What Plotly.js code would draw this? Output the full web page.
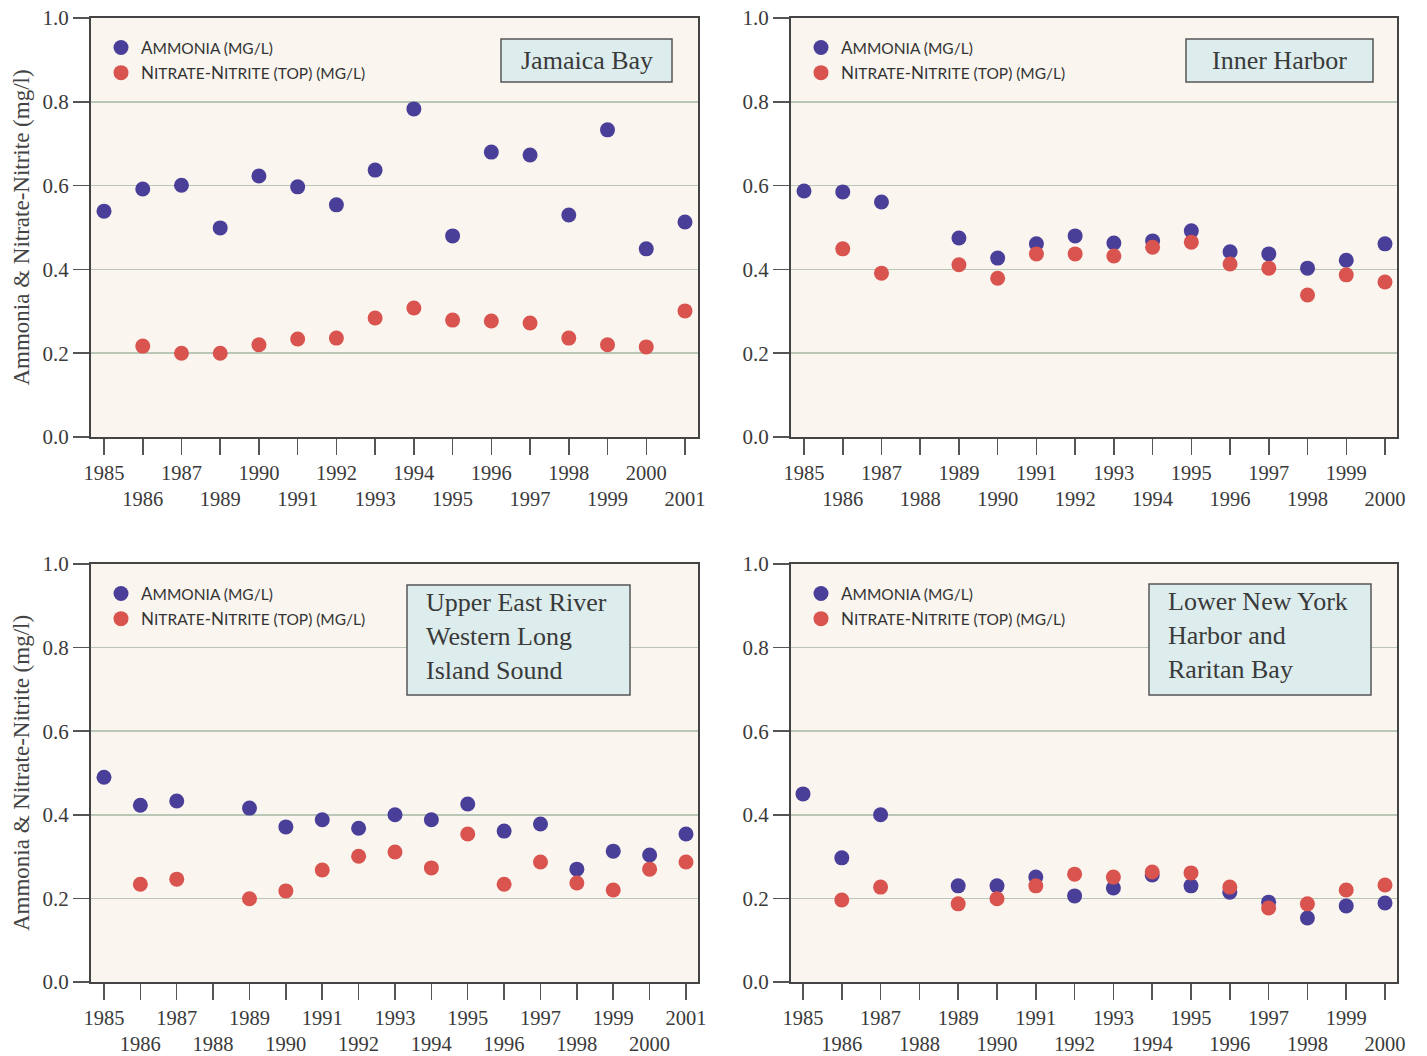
<!DOCTYPE html>
<html>
<head>
<meta charset="utf-8">
<script src="https://cdn.plot.ly/plotly-3.0.1.min.js"></script>
<style>html,body{margin:0;padding:0;background:#fff;}</style>
</head>
<body>
<div id="chart" style="width:1427px;height:1056px;"></div>
<script>
// ---------- DATA ----------
const jamaicaYears = ['1985','1986','1987','1989','1990','1991','1992','1993','1994','1995','1996','1997','1998','1999','2000','2001'];
const jamaicaAmmonia = [0.539,0.592,0.601,0.499,0.623,0.597,0.554,0.637,0.783,0.480,0.680,0.673,0.530,0.733,0.449,0.513];
const jamaicaNitrate = [null,0.217,0.200,0.200,0.220,0.234,0.236,0.284,0.308,0.279,0.277,0.272,0.236,0.220,0.215,0.301];

const innerYears = ['1985','1986','1987','1988','1989','1990','1991','1992','1993','1994','1995','1996','1997','1998','1999','2000'];
const innerAmmonia = [0.587,0.585,0.561,null,0.475,0.427,0.461,0.480,0.463,0.468,0.492,0.442,0.437,0.403,0.422,0.461];
const innerNitrate = [null,0.449,0.391,null,0.411,0.379,0.437,0.437,0.432,0.453,0.465,0.413,0.403,0.339,0.387,0.370];

const upperYears = ['1985','1986','1987','1988','1989','1990','1991','1992','1993','1994','1995','1996','1997','1998','1999','2000','2001'];
const upperAmmonia = [0.490,0.423,0.433,null,0.416,0.371,0.388,0.368,0.400,0.388,0.426,0.361,0.378,0.270,0.313,0.304,0.354];
const upperNitrate = [null,0.234,0.246,null,0.199,0.218,0.268,0.301,0.311,0.273,0.354,0.234,0.287,0.237,0.220,0.270,0.287];

const lowerYears = ['1985','1986','1987','1988','1989','1990','1991','1992','1993','1994','1995','1996','1997','1998','1999','2000'];
const lowerAmmonia = [0.450,0.297,0.400,null,0.230,0.230,0.251,0.206,0.225,0.256,0.230,0.215,0.191,0.153,0.182,0.189];
const lowerNitrate = [null,0.196,0.227,null,0.187,0.199,0.230,0.258,0.251,0.263,0.261,0.227,0.177,0.187,0.220,0.232];

const panelTitles = ['Jamaica Bay', 'Inner Harbor', 'Upper East River<br>Western Long<br>Island Sound', 'Lower New York<br>Harbor and<br>Raritan Bay'];
const yTickVals = [0, 0.2, 0.4, 0.6, 0.8, 1.0];
const yTickText = ['0.0', '0.2', '0.4', '0.6', '0.8', '1.0'];
const yTitle = 'Ammonia &amp; Nitrate-Nitrite (mg/l)';
const ammoniaName = "A<span style='font-size:15.5px'>MMONIA (MG/L)</span>";
const nitrateName = "N<span style='font-size:15.5px'>ITRATE</span>-N<span style='font-size:15.5px'>ITRITE (TOP) (MG/L)</span>";

// ---------- STYLE ----------
const W = 1427, H = 1056;
const AMM = '#4A3F98', NIT = '#D9534F';
const SERIF = '"Liberation Serif", "DejaVu Serif", serif';
const SANS = 'Lato, "Open Sans", sans-serif';
const TXT = '#3a3a3a';
const px = v => v / W;
const py = v => 1 - v / H;

const panels = [
  {years: jamaicaYears, amm: jamaicaAmmonia, nit: jamaicaNitrate, left: 91, right: 698, top: 18, bottom: 437, r0: -0.336, r1: 15.336},
  {years: innerYears, amm: innerAmmonia, nit: innerNitrate, left: 791, right: 1397, top: 18, bottom: 437, r0: -0.336, r1: 15.31},
  {years: upperYears, amm: upperAmmonia, nit: upperNitrate, left: 91, right: 698, top: 564, bottom: 982, r0: -0.357, r1: 16.33},
  {years: lowerYears, amm: lowerAmmonia, nit: lowerNitrate, left: 791, right: 1397, top: 564, bottom: 982, r0: -0.309, r1: 15.309}
];

const traces = [];
const layout = {
  width: W, height: H,
  margin: {l: 0, r: 0, t: 0, b: 0},
  paper_bgcolor: '#ffffff',
  plot_bgcolor: '#FAF5EF',
  showlegend: true,
  annotations: [],
  shapes: [],
  font: {family: SERIF, color: TXT}
};

const boxes = [
  {x0: 501, x1: 672, y0: 39, y1: 82, align: 'center', dy: 0},
  {x0: 1186, x1: 1373, y0: 39, y1: 82, align: 'center', dy: 0},
  {x0: 407, x1: 630, y0: 585, y1: 695, align: 'left', tx: 424, dy: -4},
  {x0: 1149, x1: 1371, y0: 584, y1: 695, align: 'left', tx: 1166, dy: -4}
];

panels.forEach((p, i) => {
  const n = i + 1;
  const xa = n === 1 ? 'x' : 'x' + n;
  const ya = n === 1 ? 'y' : 'y' + n;
  const lg = n === 1 ? 'legend' : 'legend' + n;
  traces.push({
    type: 'scatter', mode: 'markers', x: p.years, y: p.amm, xaxis: xa, yaxis: ya,
    name: ammoniaName, legend: lg,
    marker: {color: AMM, size: 15}, cliponaxis: false
  });
  traces.push({
    type: 'scatter', mode: 'markers', x: p.years, y: p.nit, xaxis: xa, yaxis: ya,
    name: nitrateName, legend: lg,
    marker: {color: NIT, size: 15}, cliponaxis: false
  });
  layout['xaxis' + (n === 1 ? '' : n)] = {
    type: 'category', categoryorder: 'array', categoryarray: p.years,
    domain: [px(p.left), px(p.right)], anchor: ya,
    range: [p.r0, p.r1],
    tickmode: 'array', tickvals: p.years,
    ticktext: p.years.map((yr, k) => k % 2 ? '<br>' + yr : yr),
    tickangle: 0, automargin: false,
    ticks: 'outside', ticklen: 16, tickwidth: 1.5, tickcolor: '#555',
    tickfont: {family: SERIF, size: 20.5, color: TXT},
    showline: true, mirror: true, linecolor: '#444', linewidth: 2,
    showgrid: false, zeroline: false, fixedrange: true
  };
  layout['yaxis' + (n === 1 ? '' : n)] = {
    domain: [py(p.bottom), py(p.top)], anchor: xa,
    range: [0, 1],
    tickmode: 'array', tickvals: yTickVals, ticktext: yTickText,
    ticks: 'outside', ticklen: 16, tickwidth: 1.5, tickcolor: '#555',
    tickfont: {family: SERIF, size: 21, color: TXT},
    showline: true, mirror: true, linecolor: '#444', linewidth: 2,
    showgrid: true, gridcolor: '#B9C8B6', gridwidth: 1.5, zeroline: false,
    title: (n === 1 || n === 3) ? {text: yTitle, font: {family: SERIF, size: 23, color: '#444'}, standoff: 6} : {text: ''},
    fixedrange: true
  };
  layout[lg] = {
    x: px(p.left + 10), y: py(p.top + 12), xanchor: 'left', yanchor: 'top',
    bgcolor: 'rgba(0,0,0,0)', borderwidth: 0,
    font: {family: SANS, size: 17, color: '#333'},
    itemsizing: 'trace'
  };
  const b = boxes[i];
  layout.shapes.push({
    type: 'rect', xref: 'paper', yref: 'paper',
    x0: px(b.x0), x1: px(b.x1), y0: py(b.y1), y1: py(b.y0),
    fillcolor: '#DDEDED', line: {color: '#555', width: 1.5}, layer: 'above'
  });
  layout.annotations.push({
    xref: 'paper', yref: 'paper',
    x: b.align === 'center' ? px((b.x0 + b.x1) / 2) : px(b.tx),
    y: py((b.y0 + b.y1) / 2 + b.dy),
    xanchor: b.align === 'center' ? 'center' : 'left', yanchor: 'middle',
    align: 'left', showarrow: false,
    text: panelTitles[i],
    font: {family: SERIF, size: 26, color: TXT}
  });
});

Plotly.newPlot('chart', traces, layout, {displayModeBar: false, staticPlot: true});
</script>
</body>
</html>
